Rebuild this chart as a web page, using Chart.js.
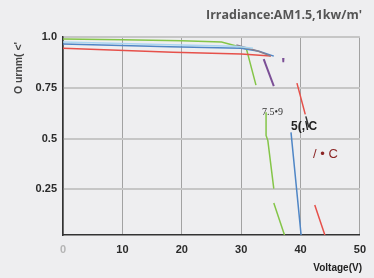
<!DOCTYPE html>
<html>
<head>
<meta charset="utf-8">
<script src="https://cdn.jsdelivr.net/npm/chart.js@4.4.1/dist/chart.umd.min.js"></script>
<style>
body { margin: 0; background: #eeeef0; }
#wrap { width: 374px; height: 278px; position: relative; }
</style>
</head>
<body>
<div id="wrap"><canvas id="ivChart"></canvas></div>
<script>
// I-V curves; null = where the printed line breaks off
const greenV = [0, 10, 20, 26.7, 29.2, 30.9, 32.5, null, 34.2, 34.2, 34.5, 35.5, null, 35.5, 37.3]
const greenI = [0.99, 0.986, 0.981, 0.975, 0.956, 0.941, 0.763, null, 0.629, 0.515, 0.49, 0.253, null, 0.183, 0.025]

const lightBlueV = [0, 18, 29, 32]
const lightBlueI = [0.975, 0.962, 0.955, 0.945]

const blueV = [0, 18, 30, 33, 35.5, null, 38.4, 40.1]
const blueI = [0.966, 0.952, 0.945, 0.93, 0.906, null, 0.53, 0.025]

const redV = [0, 18.5, 30, 35, null, 39.4, 40.8, null, 42.4, 44.1]
const redI = [0.944, 0.925, 0.916, 0.906, null, 0.773, 0.619, null, 0.173, 0.025]

const darkV = [40.9, 41.4]
const darkI = [0.609, 0.555]

const grayV = [29.2, 32.8, 35]
const grayI = [0.961, 0.931, 0.906]

const purpleV = [33.8, 35.5]
const purpleI = [0.891, 0.758]

const xTicks = [0, 10, 20, 30, 40, 50]
const yTicks = [0.25, 0.5, 0.75, 1.0]
const yTickLabels = ['0.25', '0.5', '0.75', '1.0']

const titleText = "Irradiance:AM1.5,1kw/m'"
const xTitle = 'Voltage(V)'
const yTitle = "O urnm( <'"

// stray labels printed on the curves, in data coords
const notes = [
    { text: '7.5\u20229', v: 35.3, i: 0.629, font: '10px "Liberation Serif"', color: '#333' },
    { text: '5(,\\C', v: 40.6, i: 0.56, font: 'bold 12px "Liberation Sans"', color: '#222' },
    { text: '/ \u2022 C', v: 44.2, i: 0.421, font: '13px "Liberation Sans"', color: '#8b2525' },
    { text: "'", v: 37.1, i: 0.86, font: 'bold 17px "Liberation Sans"', color: '#7b4f96' }
]

const pts = (vs, is) => vs.map((v, k) => ({ x: v, y: is[k] }))

const line = (data, color, w) => ({
    data: data,
    borderColor: color,
    borderWidth: w || 1.5,
    pointRadius: 0,
    fill: false,
    tension: 0,
    spanGaps: false
})

const textPlugin = {
    id: 'textPlugin',
    afterDraw(chart) {
        const { ctx, scales: { x, y } } = chart
        ctx.save()
        ctx.fillStyle = '#555'
        ctx.font = 'bold 13px "Open Sans"'
        ctx.textAlign = 'right'
        ctx.textBaseline = 'middle'
        ctx.fillText(titleText, 362, 15, 156)

        ctx.fillStyle = '#222'
        ctx.font = 'bold 10px "Liberation Sans"'
        ctx.fillText(xTitle, 362, 268, 50)

        ctx.translate(19, 94)
        ctx.rotate(-Math.PI / 2)
        ctx.textAlign = 'left'
        ctx.fillStyle = '#444'
        ctx.font = 'bold 11px "Liberation Sans"'
        ctx.fillText(yTitle, 0, 0, 52)
        ctx.restore()

        ctx.save()
        ctx.textAlign = 'center'
        ctx.textBaseline = 'middle'
        notes.forEach(n => {
            ctx.font = n.font
            ctx.fillStyle = n.color
            ctx.fillText(n.text, x.getPixelForValue(n.v), y.getPixelForValue(n.i))
        })
        ctx.restore()
    }
}

new Chart('ivChart', {
    type: 'line',
    data: {
        datasets: [
            line(pts(lightBlueV, lightBlueI), '#aad6f0'),
            line(pts(grayV, grayI), '#8a7f8c'),
            line(pts(redV, redI), '#e6504a'),
            line(pts(blueV, blueI), '#4f86c6'),
            line(pts(greenV, greenI), '#84c548'),
            line(pts(purpleV, purpleI), '#7b4f96', 2),
            line(pts(darkV, darkI), '#333')
        ]
    },
    options: {
        responsive: true,
        maintainAspectRatio: false,
        animation: false,
        layout: { padding: { top: 37, right: 8, left: 0, bottom: 0 } },
        plugins: { legend: { display: false }, tooltip: { enabled: false } },
        scales: {
            x: {
                type: 'linear',
                min: 0,
                max: 50,
                afterFit: s => { s.height = 43 },
                afterBuildTicks: s => { s.ticks = xTicks.map(v => ({ value: v })) },
                grid: { color: '#a2a2a2', lineWidth: 1, drawTicks: false },
                border: { color: '#333', width: 1.5 },
                ticks: {
                    padding: 8,
                    maxRotation: 0,
                    font: { family: 'Liberation Sans', size: 11, weight: 'bold' },
                    color: c => c.index === 0 ? '#b5b5b5' : '#2a2a2a'
                }
            },
            y: {
                type: 'linear',
                min: 0.025,
                max: 1.0,
                afterFit: s => { s.width = 63 },
                afterBuildTicks: s => { s.ticks = yTicks.map(v => ({ value: v })) },
                grid: { color: '#c6c6c6', lineWidth: 2, drawTicks: false },
                border: { color: '#333', width: 1.5 },
                ticks: {
                    padding: 6,
                    font: { family: 'Liberation Sans', size: 11, weight: 'bold' },
                    color: '#2a2a2a',
                    callback: (v, k) => yTickLabels[k]
                }
            }
        }
    },
    plugins: [textPlugin]
})
</script>
</body>
</html>
